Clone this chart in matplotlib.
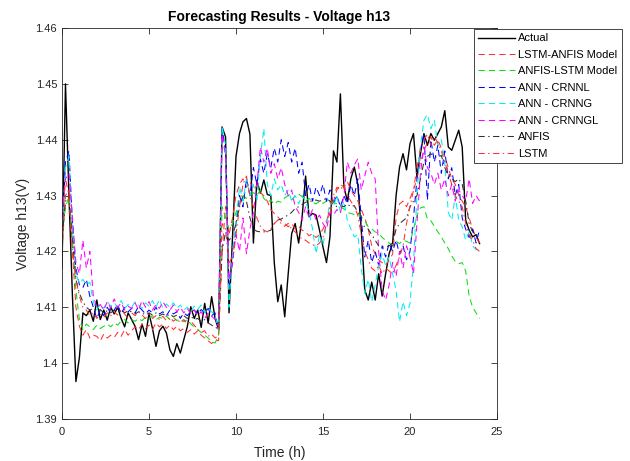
import numpy as np
import matplotlib
matplotlib.use("Agg")
import matplotlib.pyplot as plt

plt.rcParams['font.family'] = ['Liberation Sans', 'DejaVu Sans']
plt.rcParams['lines.scale_dashes'] = False

hours = np.round(np.arange(121) * 0.2, 1)

actual = [
    1.4170, 1.4500, 1.4300, 1.4120, 1.3967,
    1.4010, 1.4090, 1.4085, 1.4095, 1.4075,
    1.4113, 1.4078, 1.4095, 1.4077, 1.4100,
    1.4088, 1.4100, 1.4080, 1.4065, 1.4090,
    1.4078, 1.4066, 1.4042, 1.4070, 1.4048,
    1.4089, 1.4062, 1.4030, 1.4058, 1.4066,
    1.4054, 1.4024, 1.4012, 1.4035, 1.4018,
    1.4042, 1.4065, 1.4101, 1.4080, 1.4095,
    1.4064, 1.4107, 1.4072, 1.4119, 1.4080,
    1.4060, 1.4423, 1.4405, 1.4090, 1.4226,
    1.4370, 1.4411, 1.4432, 1.4438, 1.4410,
    1.4215, 1.4327, 1.4304, 1.4328, 1.4302,
    1.4300, 1.4180, 1.4110, 1.4140, 1.4083,
    1.4160, 1.4232, 1.4250, 1.4215, 1.4262,
    1.4335, 1.4262, 1.4268, 1.4265, 1.4238,
    1.4208, 1.4180, 1.4226, 1.4380, 1.4360,
    1.4482, 1.4316, 1.4290, 1.4330, 1.4351,
    1.4320, 1.4238, 1.4131, 1.4113, 1.4145,
    1.4113, 1.4160, 1.4120, 1.4160, 1.4196,
    1.4214, 1.4300, 1.4351, 1.4375, 1.4346,
    1.4393, 1.4411, 1.4333, 1.4375, 1.4411,
    1.4390, 1.4411, 1.4399, 1.4411, 1.4423,
    1.4452, 1.4387, 1.4381, 1.4399, 1.4417,
    1.4387, 1.4256, 1.4238, 1.4226, 1.4230,
    1.4214]

lstm_anfis = [
    1.4200, 1.4300, 1.4310, 1.4200, 1.4100,
    1.4066, 1.4050, 1.4060, 1.4045, 1.4050,
    1.4048, 1.4040, 1.4052, 1.4045, 1.4050,
    1.4046, 1.4055, 1.4048, 1.4060, 1.4050,
    1.4058, 1.4065, 1.4060, 1.4070, 1.4062,
    1.4068, 1.4060, 1.4072, 1.4065, 1.4070,
    1.4062, 1.4068, 1.4060, 1.4066, 1.4058,
    1.4062, 1.4055, 1.4060, 1.4052, 1.4058,
    1.4050, 1.4045, 1.4040, 1.4035, 1.4042,
    1.4040, 1.4200, 1.4280, 1.4230, 1.4260,
    1.4300, 1.4320, 1.4330, 1.4315, 1.4325,
    1.4310, 1.4318, 1.4305, 1.4300, 1.4290,
    1.4275, 1.4268, 1.4262, 1.4255, 1.4250,
    1.4244, 1.4250, 1.4240, 1.4245, 1.4238,
    1.4235, 1.4228, 1.4232, 1.4225, 1.4230,
    1.4240, 1.4255, 1.4268, 1.4290, 1.4310,
    1.4320, 1.4315, 1.4325, 1.4310, 1.4300,
    1.4290, 1.4275, 1.4260, 1.4240, 1.4210,
    1.4195, 1.4185, 1.4180, 1.4175, 1.4185,
    1.4195, 1.4260, 1.4285, 1.4290, 1.4280,
    1.4295, 1.4310, 1.4330, 1.4360, 1.4380,
    1.4395, 1.4405, 1.4390, 1.4400, 1.4385,
    1.4370, 1.4350, 1.4330, 1.4320, 1.4300,
    1.4290, 1.4280, 1.4260, 1.4240, 1.4225,
    1.4215]

anfis_lstm = [
    1.4230, 1.4280, 1.4298, 1.4220, 1.4130,
    1.4078, 1.4060, 1.4070, 1.4065, 1.4060,
    1.4068, 1.4062, 1.4066, 1.4070, 1.4065,
    1.4072, 1.4068, 1.4075, 1.4078, 1.4072,
    1.4078, 1.4075, 1.4080, 1.4076, 1.4082,
    1.4080, 1.4085, 1.4078, 1.4082, 1.4080,
    1.4084, 1.4078, 1.4082, 1.4076, 1.4080,
    1.4074, 1.4078, 1.4070, 1.4065, 1.4060,
    1.4055, 1.4050, 1.4045, 1.4038, 1.4036,
    1.4050, 1.4280, 1.4260, 1.4240, 1.4250,
    1.4270, 1.4285, 1.4300, 1.4295, 1.4300,
    1.4305, 1.4300, 1.4310, 1.4295, 1.4288,
    1.4292, 1.4284, 1.4290, 1.4288, 1.4296,
    1.4300, 1.4292, 1.4300, 1.4303, 1.4298,
    1.4290, 1.4295, 1.4288, 1.4285, 1.4290,
    1.4286, 1.4290, 1.4292, 1.4288, 1.4285,
    1.4280, 1.4276, 1.4270, 1.4268, 1.4266,
    1.4268, 1.4262, 1.4255, 1.4244, 1.4240,
    1.4235, 1.4232, 1.4225, 1.4220, 1.4215,
    1.4212, 1.4218, 1.4214, 1.4220, 1.4218,
    1.4215, 1.4240, 1.4265, 1.4278, 1.4280,
    1.4258, 1.4255, 1.4245, 1.4235, 1.4226,
    1.4215, 1.4205, 1.4192, 1.4182, 1.4178,
    1.4180, 1.4165, 1.4120, 1.4100, 1.4090,
    1.4080]

ann_crnnl = [
    1.4220, 1.4360, 1.4380, 1.4250, 1.4170,
    1.4140, 1.4135, 1.4150, 1.4120, 1.4100,
    1.4080, 1.4095, 1.4085, 1.4100, 1.4090,
    1.4095, 1.4105, 1.4088, 1.4100, 1.4092,
    1.4098, 1.4090, 1.4102, 1.4095, 1.4088,
    1.4095, 1.4090, 1.4100, 1.4088, 1.4092,
    1.4085, 1.4095, 1.4088, 1.4092, 1.4080,
    1.4090, 1.4085, 1.4092, 1.4095, 1.4088,
    1.4096, 1.4090, 1.4098, 1.4085, 1.4090,
    1.4060, 1.4420, 1.4380, 1.4140, 1.4180,
    1.4250, 1.4300, 1.4280, 1.4330, 1.4300,
    1.4350, 1.4320, 1.4365, 1.4340, 1.4375,
    1.4350, 1.4385, 1.4360, 1.4400, 1.4370,
    1.4395, 1.4360, 1.4385, 1.4340, 1.4360,
    1.4300, 1.4320, 1.4290, 1.4315, 1.4300,
    1.4320, 1.4290, 1.4310, 1.4285, 1.4300,
    1.4280, 1.4300, 1.4285, 1.4320, 1.4300,
    1.4330, 1.4260, 1.4190, 1.4220, 1.4180,
    1.4200, 1.4175, 1.4210, 1.4190, 1.4215,
    1.4200, 1.4220, 1.4195, 1.4210, 1.4185,
    1.4200, 1.4260, 1.4330, 1.4380, 1.4410,
    1.4292, 1.4400, 1.4360, 1.4390, 1.4340,
    1.4380, 1.4330, 1.4350, 1.4300, 1.4320,
    1.4260, 1.4240, 1.4225, 1.4240, 1.4215,
    1.4240]

ann_crnng = [
    1.4232, 1.4350, 1.4370, 1.4250, 1.4160,
    1.4143, 1.4150, 1.4140, 1.4145, 1.4110,
    1.4095, 1.4105, 1.4098, 1.4110, 1.4102,
    1.4108, 1.4100, 1.4112, 1.4098, 1.4105,
    1.4100, 1.4110, 1.4104, 1.4098, 1.4108,
    1.4102, 1.4112, 1.4100, 1.4114, 1.4098,
    1.4106, 1.4100, 1.4108, 1.4098, 1.4104,
    1.4095, 1.4100, 1.4092, 1.4102, 1.4096,
    1.4104, 1.4090, 1.4098, 1.4092, 1.4085,
    1.4060, 1.4425, 1.4390, 1.4100, 1.4200,
    1.4250, 1.4316, 1.4290, 1.4330, 1.4300,
    1.4320, 1.4290, 1.4370, 1.4420, 1.4320,
    1.4300, 1.4330, 1.4310, 1.4320, 1.4300,
    1.4310, 1.4290, 1.4300, 1.4285, 1.4300,
    1.4290, 1.4270, 1.4240, 1.4196, 1.4230,
    1.4210, 1.4250, 1.4290, 1.4280, 1.4300,
    1.4270, 1.4290, 1.4256, 1.4240, 1.4226,
    1.4230, 1.4170, 1.4125, 1.4150, 1.4110,
    1.4140, 1.4175, 1.4195, 1.4175, 1.4190,
    1.4160, 1.4130, 1.4074, 1.4110, 1.4085,
    1.4107, 1.4180, 1.4300, 1.4387, 1.4435,
    1.4445, 1.4420, 1.4435, 1.4390, 1.4400,
    1.4357, 1.4270, 1.4256, 1.4300, 1.4256,
    1.4244, 1.4220, 1.4235, 1.4210, 1.4203,
    1.4205]

ann_crnngl = [
    1.4268, 1.4330, 1.4340, 1.4260, 1.4180,
    1.4160, 1.4220, 1.4170, 1.4200, 1.4120,
    1.4100, 1.4105, 1.4095, 1.4110, 1.4098,
    1.4115, 1.4100, 1.4108, 1.4095, 1.4102,
    1.4098, 1.4108, 1.4095, 1.4112, 1.4100,
    1.4110, 1.4095, 1.4105, 1.4098, 1.4110,
    1.4100, 1.4095, 1.4104, 1.4092, 1.4100,
    1.4090, 1.4098, 1.4088, 1.4095, 1.4085,
    1.4092, 1.4080, 1.4090, 1.4084, 1.4078,
    1.4065, 1.4410, 1.4370, 1.4149, 1.4180,
    1.4230, 1.4200, 1.4260, 1.4196, 1.4240,
    1.4270, 1.4320, 1.4387, 1.4360, 1.4385,
    1.4340, 1.4357, 1.4330, 1.4350, 1.4320,
    1.4300, 1.4310, 1.4280, 1.4270, 1.4256,
    1.4280, 1.4260, 1.4275, 1.4256, 1.4265,
    1.4250, 1.4240, 1.4270, 1.4265, 1.4275,
    1.4268, 1.4300, 1.4360, 1.4340, 1.4355,
    1.4366, 1.4310, 1.4335, 1.4360, 1.4340,
    1.4330, 1.4200, 1.4130, 1.4113, 1.4140,
    1.4180, 1.4155, 1.4200, 1.4170, 1.4210,
    1.4190, 1.4160, 1.4250, 1.4340, 1.4387,
    1.4350, 1.4340, 1.4320, 1.4340, 1.4310,
    1.4330, 1.4300, 1.4320, 1.4290, 1.4310,
    1.4300, 1.4290, 1.4330, 1.4286, 1.4300,
    1.4290]

anfis = [
    1.4220, 1.4290, 1.4300, 1.4220, 1.4150,
    1.4125, 1.4110, 1.4100, 1.4095, 1.4098,
    1.4092, 1.4096, 1.4090, 1.4094, 1.4090,
    1.4095, 1.4092, 1.4096, 1.4090, 1.4094,
    1.4092, 1.4088, 1.4092, 1.4090, 1.4086,
    1.4090, 1.4086, 1.4090, 1.4085, 1.4088,
    1.4084, 1.4088, 1.4083, 1.4086, 1.4082,
    1.4085, 1.4080, 1.4084, 1.4078, 1.4080,
    1.4075, 1.4078, 1.4072, 1.4068, 1.4065,
    1.4060, 1.4200, 1.4235, 1.4220, 1.4228,
    1.4250, 1.4280, 1.4300, 1.4290, 1.4260,
    1.4240, 1.4236, 1.4235, 1.4235, 1.4236,
    1.4238, 1.4250, 1.4256, 1.4258, 1.4262,
    1.4265, 1.4270, 1.4277, 1.4280, 1.4284,
    1.4288, 1.4290, 1.4290, 1.4292, 1.4290,
    1.4292, 1.4295, 1.4290, 1.4285, 1.4280,
    1.4282, 1.4280, 1.4285, 1.4280, 1.4282,
    1.4270, 1.4250, 1.4244, 1.4240, 1.4230,
    1.4220, 1.4210, 1.4208, 1.4208, 1.4210,
    1.4215, 1.4240, 1.4250, 1.4255, 1.4260,
    1.4280, 1.4290, 1.4300, 1.4330, 1.4360,
    1.4370, 1.4375, 1.4370, 1.4368, 1.4372,
    1.4350, 1.4335, 1.4330, 1.4325, 1.4330,
    1.4320, 1.4290, 1.4250, 1.4235, 1.4230,
    1.4225]

lstm = [
    1.4230, 1.4330, 1.4300, 1.4200, 1.4150,
    1.4120, 1.4100, 1.4095, 1.4085, 1.4090,
    1.4080, 1.4088, 1.4082, 1.4090, 1.4085,
    1.4092, 1.4086, 1.4095, 1.4088, 1.4080,
    1.4090, 1.4085, 1.4092, 1.4086, 1.4080,
    1.4088, 1.4080, 1.4085, 1.4078, 1.4084,
    1.4076, 1.4082, 1.4075, 1.4080, 1.4072,
    1.4078, 1.4070, 1.4075, 1.4068, 1.4060,
    1.4055, 1.4058, 1.4048, 1.4052, 1.4045,
    1.4050, 1.4250, 1.4240, 1.4180, 1.4190,
    1.4230, 1.4280, 1.4320, 1.4335, 1.4300,
    1.4280, 1.4260, 1.4245, 1.4238, 1.4235,
    1.4240, 1.4250, 1.4256, 1.4250, 1.4245,
    1.4250, 1.4240, 1.4235, 1.4228, 1.4222,
    1.4220, 1.4215, 1.4212, 1.4210, 1.4215,
    1.4225, 1.4250, 1.4280, 1.4300, 1.4315,
    1.4310, 1.4320, 1.4300, 1.4290, 1.4280,
    1.4265, 1.4230, 1.4200, 1.4185, 1.4170,
    1.4165, 1.4175, 1.4160, 1.4170, 1.4165,
    1.4160, 1.4175, 1.4190, 1.4210, 1.4250,
    1.4280, 1.4310, 1.4350, 1.4385, 1.4400,
    1.4410, 1.4390, 1.4405, 1.4395, 1.4380,
    1.4360, 1.4340, 1.4320, 1.4300, 1.4290,
    1.4280, 1.4250, 1.4230, 1.4220, 1.4205,
    1.4200]

labels = ["Actual", "LSTM-ANFIS Model", "ANFIS-LSTM Model", "ANN - CRNNL",
          "ANN - CRNNG", "ANN - CRNNGL", "ANFIS", "LSTM"]
x_ticks = [0, 5, 10, 15, 20, 25]
y_ticks = [1.39, 1.40, 1.41, 1.42, 1.43, 1.44, 1.45, 1.46]
y_tick_labels = ["1.39", "1.4", "1.41", "1.42", "1.43", "1.44", "1.45", "1.46"]

fig = plt.figure(figsize=(6.3, 4.61), dpi=100)
ax = fig.add_axes([62 / 630, 1 - 419 / 461, (497 - 62) / 630, (419 - 28) / 461])

dash = (4.5, 3.0)
dashdot = (4.5, 2.5, 1.0, 2.5)
series = [
    (actual, dict(color='black', lw=1.0, linestyle='-')),
    (lstm_anfis, dict(color='#ff3030', lw=0.75, dashes=dash)),
    (anfis_lstm, dict(color='#10dd10', lw=0.75, dashes=dash)),
    (ann_crnnl, dict(color='#0000ff', lw=0.75, dashes=dash)),
    (ann_crnng, dict(color='#00eeee', lw=0.75, dashes=dash)),
    (ann_crnngl, dict(color='#ff00ff', lw=0.75, dashes=dash)),
    (anfis, dict(color='#303030', lw=0.75, dashes=dashdot)),
    (lstm, dict(color='#ff3030', lw=0.75, dashes=dashdot)),
]
for (vals, style), lab in zip(series, labels):
    ax.plot(hours, vals, label=lab, **style)

ax.set_xlim(0, 25)
ax.set_ylim(1.39, 1.46)
ax.set_xticks(x_ticks)
ax.set_yticks(y_ticks)
ax.set_yticklabels(y_tick_labels)
ax.tick_params(direction='in', length=4, width=0.6, labelsize=8,
               top=True, right=True, colors='#262626', labelcolor='#262626')
ax.tick_params(axis='x', pad=6)
for sp in ax.spines.values():
    sp.set_linewidth(0.6)
    sp.set_color('#262626')

ax.set_title("Forecasting Results - Voltage h13", fontsize=10, fontweight='bold',
             color='black', pad=5)
ax.set_xlabel("Time (h)", fontsize=10, color='#262626', labelpad=6)
ax.set_ylabel("Voltage h13(V)", fontsize=10, color='#262626', labelpad=4)

leg = ax.legend(loc='upper left', bbox_to_anchor=(474 / 630, 1 - 29 / 461),
                bbox_transform=fig.transFigure, fontsize=8, frameon=True,
                fancybox=False, framealpha=1, edgecolor='#262626',
                handlelength=3.3, handletextpad=0.3, labelspacing=0.58,
                borderpad=0.4, borderaxespad=0)
leg.get_frame().set_linewidth(0.6)

fig.savefig("out.png", dpi=100)
